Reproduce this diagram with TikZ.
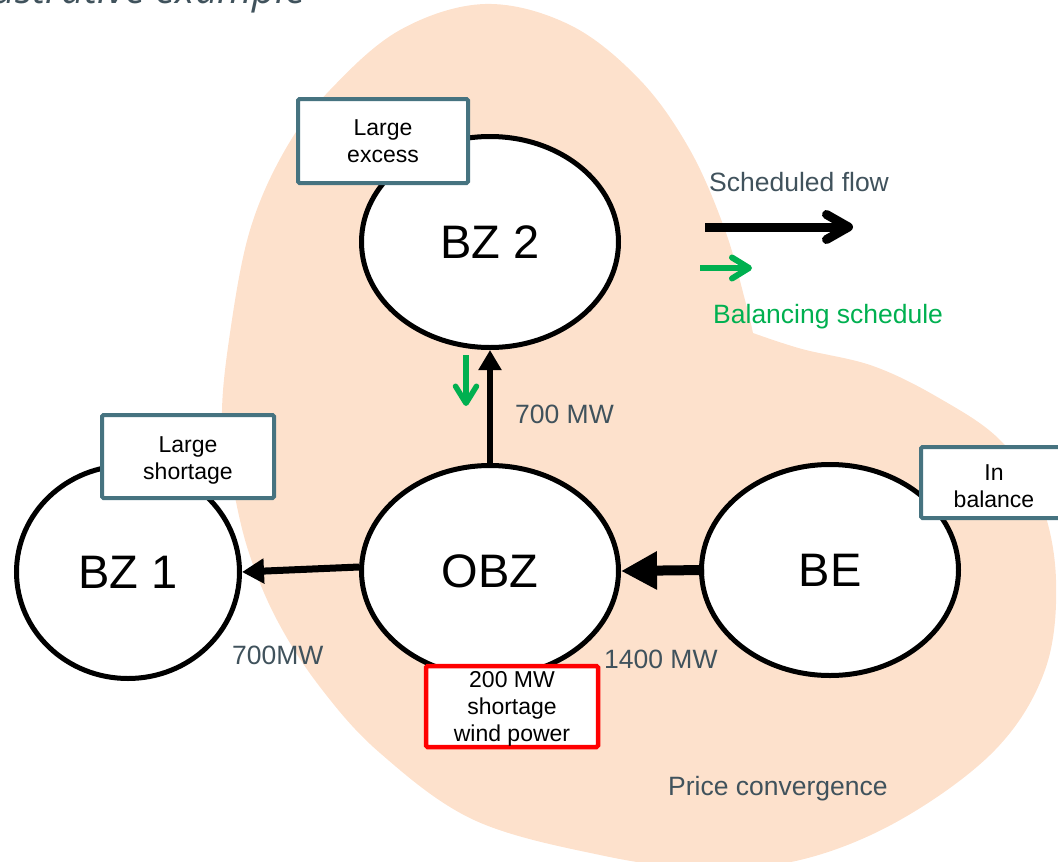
\documentclass[tikz,border=0pt]{standalone}
\usepackage{fontspec}
\setmainfont{Liberation Sans}
\newfontfamily\titlefont{Open Sans}
\usetikzlibrary{shapes.geometric,arrows.meta}
\definecolor{peach}{RGB}{253,225,204}
\definecolor{slate}{RGB}{64,82,92}
\definecolor{tealframe}{RGB}{70,115,128}
\definecolor{balgreen}{RGB}{0,176,80}
\definecolor{alertred}{RGB}{255,0,0}
\tikzset{
  zone/.style={ellipse, draw=black, line width=5pt, fill=white,
    minimum width=257pt, minimum height=211pt, inner sep=0pt,
    font=\fontsize{47}{50}\selectfont},
  note/.style={rectangle, draw=tealframe, line width=4pt, fill=white,
    rounded corners=1.5pt, align=center, inner sep=0pt,
    font=\fontsize{23}{27.5}\selectfont},
  alertnote/.style={note, draw=alertred, line width=4.5pt},
  notetext/.style={align=center, inner sep=0pt,
    font=\fontsize{23}{27}\selectfont},
  lbl/.style={anchor=base west, inner sep=0pt, text=slate,
    font=\fontsize{26.5}{30}\selectfont},
  flow/.style={draw=black},
  balance/.style={draw=balgreen, -{Straight Barb[length=17pt,width=21pt,round]}},
}
\begin{document}
\begin{tikzpicture}[x=1pt,y=-1pt]
\useasboundingbox (0,0) rectangle (1058,862);

% title line running off the top edge
\node[anchor=base east, inner sep=0pt, text=slate,
  font=\titlefont\itshape\fontsize{40}{44}\selectfont] (title) at (306,3) {Illustrative example};

% price convergence area
\fill[peach] plot[smooth, tension=0.6] coordinates {
  (753,333) (802,349) (873,366) (939,398) (1000,440) (1040,500) (1056,580)
  (1045,670) (995,750) (900,820) (800,860) (700,868) (600,855) (474,820)
  (380,753) (320,687) (277,620) (249,553) (233,487) (222,420) (230,333)
  (250,230) (285,150) (330,90) (400,30) (485,4) (570,25) (640,80)
  (690,150) (725,230) (745,300) (753,333)} -- cycle;

% bidding zones
\node[zone] (bz2) at (490,242) {BZ 2};
\node[zone] (obz) at (490,571) {OBZ};
\node[zone] (be) at (830,570) {BE};
\node[zone, minimum width=223pt, minimum height=213pt] (bz1) at (128,572) {BZ 1};

% scheduled flows
\draw[flow, line width=6pt, -{Triangle[length=20pt,width=22pt]}] (obz.north) -- (bz2.south);
\draw[flow, line width=7pt, -{Triangle[length=22pt,width=24pt]}] ([yshift=4pt]obz.west) -- (bz1.east);
\draw[flow, line width=10pt, -{Triangle[length=36pt,width=36pt]}] ([xshift=5pt]be.west) -- (obz.east);

% balancing schedule
\coordinate (gtop) at (466,355);
\coordinate (gtip) at (466,406);
\draw[balance, line width=5.5pt] (gtop) -- (gtip);

% flow labels
\node[lbl] (l700a) at (515,423) {700 MW};
\node[lbl] (l700b) at (232,664) {700MW};
\node[lbl] (l1400) at (604,668) {1400 MW};
\node[lbl] (price) at (668,795) {Price convergence};

% legend
\node[lbl] (sched) at (709,191) {Scheduled flow};
\coordinate (ks) at (705,227);
\coordinate (ke) at (853,227);
\draw[flow, line width=9pt, -{Straight Barb[length=22pt,width=25pt,round]}] (ks) -- (ke);
\coordinate (gs) at (700,268);
\coordinate (ge) at (752,268);
\draw[balance, line width=6pt] (gs) -- (ge);
\node[lbl, text=balgreen] (bal) at (713,323) {Balancing schedule};

% zone status notes
\node[note, minimum width=170pt, minimum height=84pt] (exc) at (383,141) {Large\\excess};
\node[note, minimum width=172pt, minimum height=83pt] (sho) at (188,456.5) {};
\node[notetext] (shotext) at (188,460) {Large\\shortage};
\node[note, minimum width=146pt, minimum height=71pt] (inb) at (994,482.5) {};
\node[notetext] (inbtext) at (994,486) {In\\balance};
\node[alertnote, minimum width=172pt, minimum height=81pt] (wind) at (512,706.5) {};
\node[notetext] (windtext) at (512,709) {200 MW\\shortage\\wind power};
\end{tikzpicture}
\end{document}
